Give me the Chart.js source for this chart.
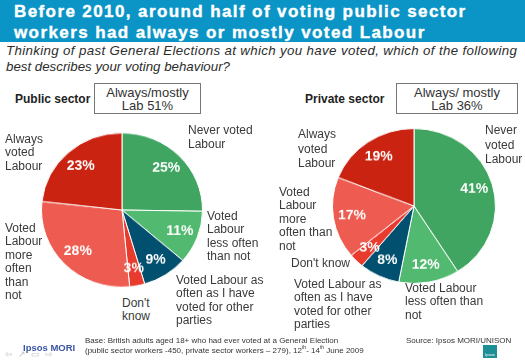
<!DOCTYPE html>
<html lang="en">
<head>
<meta charset="UTF-8">
<title>Voting behaviour</title>
<script src="https://cdn.jsdelivr.net/npm/chart.js"></script>
<style>
    html, body { margin: 0; padding: 0; background: #fff; }
    #page { position: relative; width: 525px; height: 361px; overflow: hidden; font-family: "Liberation Sans", Arial, sans-serif; color: #3a3a3a; }
    #band { position: absolute; left: 0; top: 0; width: 525px; height: 42px; background: #0b94c6; }
    #title { position: absolute; left: 14px; top: 1px; color: #fff; font-weight: bold; font-size: 17px; line-height: 21px; letter-spacing: 1.4px; white-space: nowrap; -webkit-text-stroke: 0.4px #fff; }
    #question { position: absolute; left: 6px; top: 43px; font-style: italic; font-size: 13.3px; line-height: 16px; color: #2c2c2c; white-space: nowrap; }
    .t { position: absolute; font-size: 12px; line-height: 13.4px; white-space: nowrap; }
    .head { position: absolute; font-weight: bold; font-size: 12px; color: #222; white-space: nowrap; }
    .box { position: absolute; top: 83px; height: 31px; border: 1px solid #777; text-align: center; font-size: 13px; line-height: 12.5px; padding-top: 3px; box-sizing: border-box; color: #333; }
    canvas { position: absolute; }
    #base { position: absolute; left: 85px; top: 336px; font-size: 8px; line-height: 9.6px; white-space: nowrap; color: #333; }
    #source { position: absolute; left: 406px; top: 336px; font-size: 8px; white-space: nowrap; color: #333; }
    #logo { position: absolute; left: 23px; top: 342px; font-weight: bold; font-size: 9.5px; color: #3b55a5; white-space: nowrap; }
    #nav { position: absolute; left: 5px; top: 349px; font-size: 9px; color: #c4c4c4; letter-spacing: 5px; white-space: nowrap; }
    #badge { position: absolute; left: 483px; top: 345px; width: 14px; height: 13px; background: #1b8f94; color: #fff; font-size: 4px; line-height: 20px; text-align: center; overflow: hidden; }
</style>
</head>
<body>
<div id="page">
    <div id="band"></div>
    <div id="title">Before 2010, around half of voting public sector<br>workers had always or mostly voted Labour</div>
    <div id="question"><span style="letter-spacing:0.35px">Thinking of past General Elections at which you have voted, which of the following</span><br>best describes your voting behaviour?</div>

    <div class="head" style="left:15px;top:92px">Public sector</div>
    <div class="box" style="left:94px;width:107px">Always/mostly<br>Lab 51%</div>
    <div class="head" style="left:305px;top:92px">Private sector</div>
    <div class="box" style="left:396px;width:122px">Always/ mostly<br>Lab 36%</div>

    <!-- Les camemberts de l'image sont un peu ecrases en hauteur -->
    <canvas id="publicPie" width="166" height="166" style="left:39px;top:126.5px;transform:scaleY(0.957)"></canvas>
    <canvas id="privatePie" width="168" height="168" style="left:330px;top:121.5px;transform:scaleY(0.95)"></canvas>

    <!-- Libelles du camembert public -->
    <div class="t" style="left:5px;top:133px">Always<br>voted<br>Labour</div>
    <div class="t" style="left:188px;top:123px;line-height:14px">Never voted<br>Labour</div>
    <div class="t" style="left:207px;top:210px">Voted<br>Labour<br>less often<br>than not</div>
    <div class="t" style="left:5px;top:222px">Voted<br>Labour<br>more<br>often<br>than<br>not</div>
    <div class="t" style="left:176px;top:274px">Voted Labour as<br>often as I have<br>voted for other<br>parties</div>
    <div class="t" style="left:122px;top:297px">Don't<br>know</div>

    <!-- Libelles du camembert prive -->
    <div class="t" style="left:298px;top:127px;line-height:14.5px">Always<br>voted<br>Labour</div>
    <div class="t" style="left:485px;top:123px;line-height:14.5px">Never<br>voted<br>Labour</div>
    <div class="t" style="left:279px;top:186px">Voted<br>Labour<br>more<br>often than<br>not</div>
    <div class="t" style="left:291px;top:257px">Don't know</div>
    <div class="t" style="left:294px;top:278px">Voted Labour as<br>often as I have<br>voted for other<br>parties</div>
    <div class="t" style="left:405px;top:282px">Voted Labour<br>less often than<br>not</div>

    <div id="nav">&#8678;&#8599;&#9645;&#8680;</div>
    <div id="logo">Ipsos MORI</div>
    <div id="base">Base: British adults aged 18+ who had ever voted at a General Election<br>(public sector workers -450, private sector workers &#8211; 279), 12<sup style="font-size:5px;line-height:0">th</sup>- 14<sup style="font-size:5px;line-height:0">th</sup> June 2009</div>
    <div id="source">Source: Ipsos MORI/UNISON</div>
    <div id="badge">Ipsos</div>
</div>

<script>
    // Donnees
    const categories = ['Never voted Labour', 'Voted Labour less often than not', 'Voted Labour as often as I have voted for other parties', "Don't know", 'Voted Labour more often than not', 'Always voted Labour'];
    const publicValues = [25, 11, 9, 3, 28, 23];
    const privateValues = [41, 12, 8, 3, 17, 19];
    const sliceColours = ['#3fa561', '#52ba70', '#02506f', '#e83a2d', '#ee5b50', '#cb2312'];

    // Ecrit le pourcentage dans chaque part
    const percentLabels = {
        id: 'percentLabels',
        afterDatasetsDraw(chart) {
            const ctx = chart.ctx;
            const values = chart.data.datasets[0].data;
            ctx.save();
            ctx.fillStyle = '#fff';
            ctx.font = 'bold 14px "Liberation Sans", Arial, sans-serif';
            ctx.textAlign = 'center';
            ctx.textBaseline = 'middle';
            chart.getDatasetMeta(0).data.forEach((arc, i) => {
                const mid = (arc.startAngle + arc.endAngle) / 2;
                const r = arc.outerRadius * 0.77;
                ctx.fillText(values[i] + '%', arc.x + Math.cos(mid) * r, arc.y + Math.sin(mid) * r);
            });
            ctx.restore();
        }
    };

    function drawPie(id, values) {
        new Chart(document.getElementById(id), {
            type: 'pie',
            data: {
                labels: categories,
                datasets: [{ data: values, backgroundColor: sliceColours, borderColor: '#fff', borderWidth: 1 }]
            },
            options: {
                responsive: false,
                animation: false,
                layout: { padding: 2 },
                plugins: { legend: { display: false }, tooltip: { enabled: false } }
            },
            plugins: [percentLabels]
        });
    }

    drawPie('publicPie', publicValues);
    drawPie('privatePie', privateValues);
</script>
</body>
</html>
